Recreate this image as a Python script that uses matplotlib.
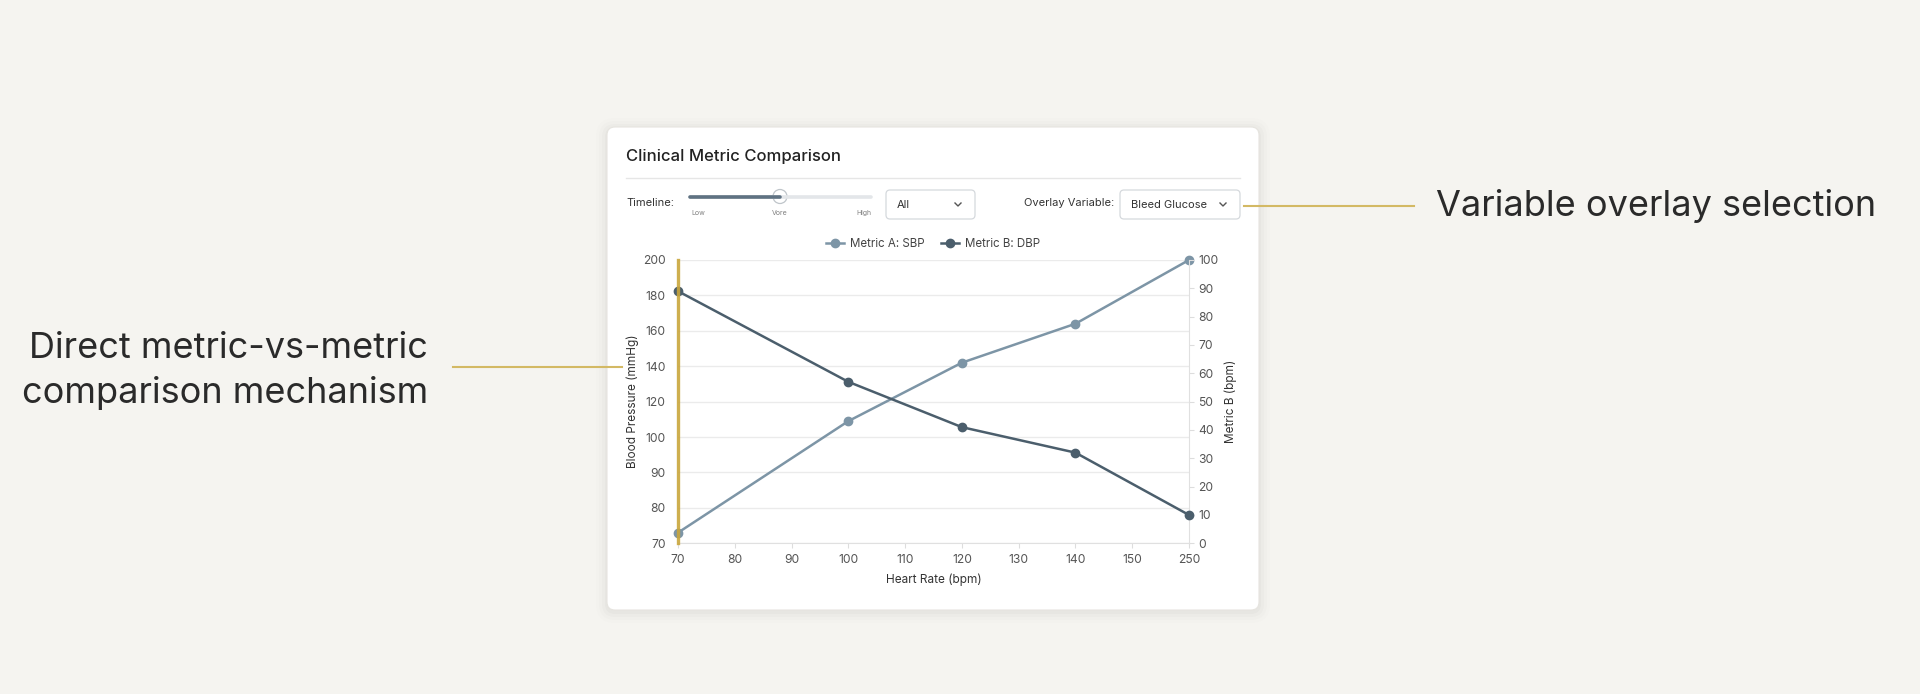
import numpy as np
import matplotlib
matplotlib.use("Agg")
import matplotlib.pyplot as plt
from matplotlib.patches import FancyBboxPatch, Circle
from matplotlib.lines import Line2D
from matplotlib.transforms import Affine2D

# ---------------- data ----------------
heart_rate = [70, 100, 120, 140, 250]
sbp = [73, 109, 142, 164, 200]          # Metric A (left axis, mmHg)
dbp = [89, 57, 41, 32, 10]              # Metric B (right axis)
x_ticks = [70, 80, 90, 100, 110, 120, 130, 140, 150, 250]
y_left_ticks = [70, 80, 90, 100, 120, 140, 160, 180, 200]
y_right_ticks = list(range(0, 101, 10))
slider_labels = ["Low", "Vore", "High"]

# ---------------- style ----------------
plt.rcParams['font.family'] = ['Inter', 'DejaVu Sans']
BG = '#f5f4f0'
GOLD = '#c9a63c'
GOLD_LINE = '#d3b964'
C_A = '#7d95a6'
C_B = '#4b5e6c'
TXT = '#2a2a2a'
TICK = '#555555'

W, H, DPI = 1920, 694, 100
fig = plt.figure(figsize=(W / DPI, H / DPI), dpi=DPI, facecolor=BG)
# pixel coordinates measured from the top-left corner
px = Affine2D().scale(1, -1).translate(0, H).scale(1 / DPI) + fig.dpi_scale_trans

# ---------------- card ----------------
for i, a in enumerate([0.018, 0.014, 0.010, 0.007]):
    g = 2 + i * 3
    fig.add_artist(FancyBboxPatch((607 - g, 127 - g + 2), 652 + 2 * g, 483 + 2 * g,
                                  boxstyle=f"round,pad=0,rounding_size={8 + g}",
                                  transform=px, fc='#000000', ec='none', alpha=a, zorder=-3))
fig.add_artist(FancyBboxPatch((607, 127), 652, 483, boxstyle="round,pad=0,rounding_size=8",
                              transform=px, fc='white', ec='#e6e4df', lw=0.8, zorder=-2))

fig.text(626, 157, "Clinical Metric Comparison", transform=px, fontsize=12, fontweight=500,
         color='#222222', va='center', ha='left')
fig.add_artist(Line2D([626, 1240], [177.5, 177.5], transform=px, color='#e6e6e6', lw=1))

# timeline control
fig.text(626, 203, "Timeline:", transform=px, fontsize=8, color='#333333', va='center')
fig.add_artist(Line2D([690, 871], [196.5, 196.5], transform=px, color='#e3e6e9', lw=2.6,
                      solid_capstyle='round'))
fig.add_artist(Line2D([690, 780], [196.5, 196.5], transform=px, color='#5f7282', lw=2.6,
                      solid_capstyle='round'))
fig.add_artist(Circle((780, 196.5), 7, transform=px, fc='white', ec='#bfc5ca', lw=0.9))
for lab, xx, ha in zip(slider_labels, [691, 780, 871], ['left', 'center', 'right']):
    fig.text(xx, 213, lab, transform=px, fontsize=5, color='#808080', va='center', ha=ha)

def dropdown(x0, w, label):
    fig.add_artist(FancyBboxPatch((x0, 190), w, 29, boxstyle="round,pad=0,rounding_size=4",
                                  transform=px, fc='white', ec='#d5d9dd', lw=0.9))
    fig.text(x0 + 11, 204.5, label, transform=px, fontsize=8, color='#333333', va='center')
    cx = x0 + w - 17
    fig.add_artist(Line2D([cx - 3, cx, cx + 3], [203, 206, 203], transform=px,
                          color='#555555', lw=1))

dropdown(886, 89, "All")
fig.text(1114, 203, "Overlay Variable:", transform=px, fontsize=8, color='#333333',
         va='center', ha='right')
dropdown(1120, 120, "Bleed Glucose")

# ---------------- chart ----------------
L, R, T, B = 678, 1189, 260, 543.3
ax = fig.add_axes([L / W, 1 - B / H, (R - L) / W, (B - T) / H])
ax.set_facecolor('white')

xi = np.arange(len(x_ticks))
yi = np.arange(len(y_left_ticks))
ax.set_xscale('function', functions=(lambda v: np.interp(v, x_ticks, xi),
                                     lambda p: np.interp(p, xi, x_ticks)))
ax.set_yscale('function', functions=(lambda v: np.interp(v, y_left_ticks, yi),
                                     lambda p: np.interp(p, yi, y_left_ticks)))
ax.set_xlim(x_ticks[0], x_ticks[-1])
ax.set_ylim(y_left_ticks[0], y_left_ticks[-1])
ax.set_xticks(x_ticks)
ax.set_xticklabels([str(v) for v in x_ticks])
ax.set_yticks(y_left_ticks)
ax.set_yticklabels([str(v) for v in y_left_ticks])
ax.yaxis.grid(True, color='#ebebeb', lw=1)
ax.set_axisbelow(True)

ax2 = ax.twinx()
ax2.set_ylim(0, 100)
ax2.set_yticks(y_right_ticks)

for s in ['top', 'left', 'right']:
    ax.spines[s].set_visible(False)
ax.spines['bottom'].set_color('#e0e0e0')
for s in ['top', 'left', 'bottom']:
    ax2.spines[s].set_visible(False)
ax2.spines['right'].set_color('#e0e0e0')

ax.tick_params(axis='x', length=3.5, color='#dddddd', labelsize=8.7, labelcolor=TICK, pad=4)
ax.tick_params(axis='y', length=0, labelsize=8.7, labelcolor=TICK, pad=9)
ax2.tick_params(axis='y', length=3.5, color='#dddddd', labelsize=8.7, labelcolor=TICK, pad=3)

lA, = ax.plot(heart_rate, sbp, color=C_A, lw=1.8, marker='o', ms=6, clip_on=False, zorder=3,
              label='Metric A: SBP')
lB, = ax2.plot(heart_rate, dbp, color=C_B, lw=1.8, marker='o', ms=6, clip_on=False, zorder=3,
               label='Metric B: DBP')
ax2.axvline(x_ticks[0], color=GOLD, lw=2.4, alpha=0.9, zorder=6, clip_on=False)

ax.set_xlabel("Heart Rate (bpm)", fontsize=8.5, color='#333333')
ax.xaxis.set_label_coords(0.5, -(580 - B) / (B - T))
ax.xaxis.label.set_va('center')
ax.set_ylabel("Blood Pressure (mmHg)", fontsize=8.5, color='#333333')
ax.yaxis.set_label_coords((633 - L) / (R - L), 0.5)
ax.yaxis.label.set_va('center')
ax2.set_ylabel("Metric B (bpm)", fontsize=8.5, color='#333333', rotation=90)
ax2.yaxis.set_label_coords(1 + (1231 - R) / (R - L), 0.5)
ax2.yaxis.label.set_va('center')

fig.legend(handles=[lA, lB], loc='center', bbox_to_anchor=(933 / W, 1 - 244 / H), ncol=2,
           frameon=False, fontsize=8.3, handlelength=1.6, columnspacing=1.4, handletextpad=0.5,
           labelcolor='#444444')

# ---------------- callouts ----------------
fig.add_artist(Line2D([1244, 1414], [206, 206], transform=px, color=GOLD_LINE, lw=1.5))
fig.text(1436, 206, "Variable overlay selection", transform=px, fontsize=26, color=TXT,
         va='center', ha='left')
fig.add_artist(Line2D([453, 622], [367, 367], transform=px, color=GOLD_LINE, lw=1.5))
fig.text(428, 349, "Direct metric-vs-metric", transform=px, fontsize=26, color=TXT,
         va='center', ha='right')
fig.text(428, 393, "comparison mechanism", transform=px, fontsize=26, color=TXT,
         va='center', ha='right')

fig.savefig("out.png", dpi=DPI, facecolor=BG)
